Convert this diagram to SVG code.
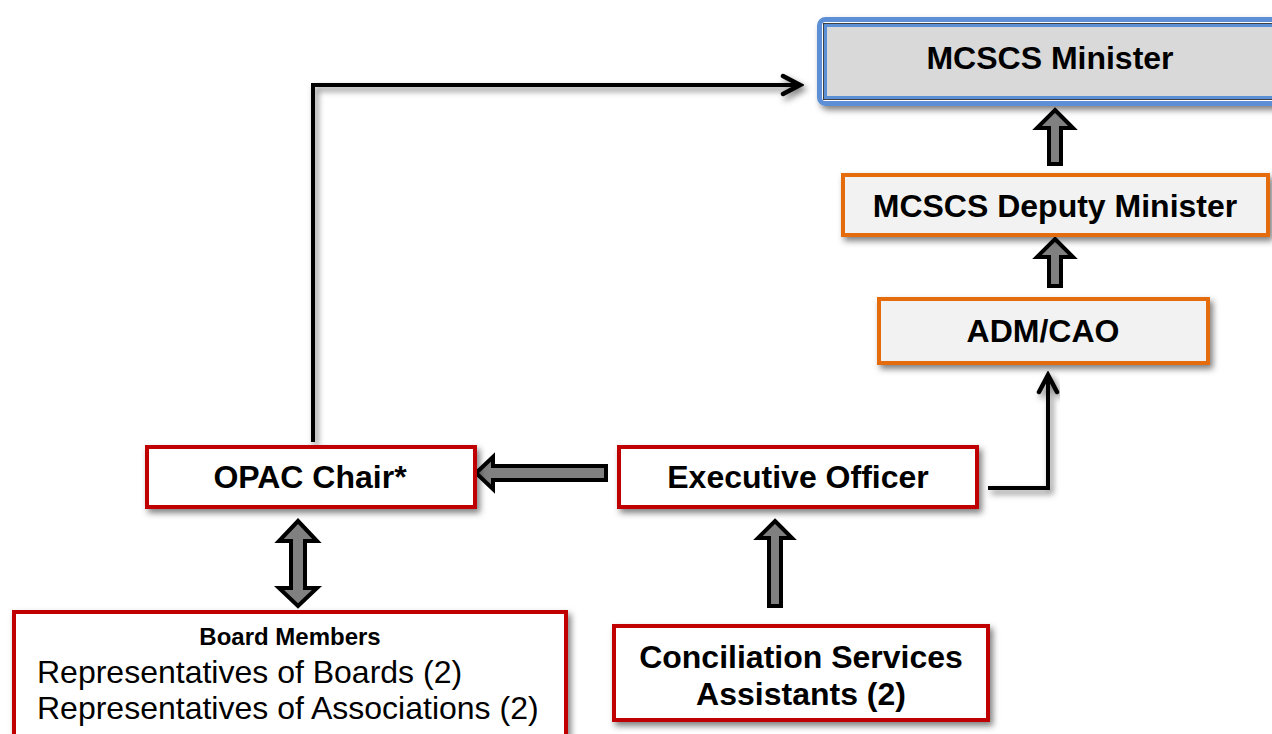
<svg xmlns="http://www.w3.org/2000/svg" width="1272" height="734" viewBox="0 0 1272 734">
<defs>
<filter id="sh" x="-10%" y="-20%" width="130%" height="160%">
<feDropShadow dx="3" dy="4" stdDeviation="3" flood-color="#000" flood-opacity="0.5"/>
</filter>
<marker id="chev" viewBox="0 0 24 24" refX="20" refY="12" markerWidth="24" markerHeight="24" markerUnits="userSpaceOnUse" orient="auto">
<path d="M3,3 L20,12 L3,21" fill="none" stroke="#000" stroke-width="4.5" stroke-linecap="round" stroke-linejoin="miter"/>
</marker>
</defs>
<style>
.t{font-family:"Liberation Sans",Arial,sans-serif;font-weight:bold;font-size:32px;fill:#000;text-anchor:middle}
.r{font-family:"Liberation Sans",Arial,sans-serif;font-size:32px;fill:#000}
.red{fill:#fff;stroke:#c00000;stroke-width:4}
.org{fill:#f2f2f2;stroke:#e46c0a;stroke-width:4}
.blk{fill:#808080;stroke:#000;stroke-width:4;stroke-linejoin:miter}
.ln{fill:none;stroke:#000;stroke-width:4}
</style>
<rect width="1272" height="734" fill="#fff"/>
<g id="connectors">
<path class="ln" d="M313,442 L313,85 L800,85" marker-end="url(#chev)" filter="url(#sh)"/>
<path class="ln" d="M988,488 L1048,488 L1048,375" marker-end="url(#chev)" filter="url(#sh)"/>
<path class="blk" d="M1055,110 L1073,128 L1061,128 L1061,164 L1049,164 L1049,128 L1037,128 Z"/>
<path class="blk" d="M1055,239 L1073,257 L1061,257 L1061,286 L1049,286 L1049,257 L1037,257 Z"/>
<path class="blk" d="M775,521 L792,538 L781,538 L781,606 L769,606 L769,538 L758,538 Z"/>
<path class="blk" d="M476,473 L493,457 L493,466 L606,466 L606,480 L493,480 L493,489 Z"/>
<path class="blk" d="M298,521 L317,541 L305,541 L305,588 L317,588 L298,606 L279,588 L291,588 L291,541 L279,541 Z"/>
</g>
<g id="minister">
<rect x="819.5" y="19.5" width="470" height="84" rx="6" fill="#fff" stroke="#5b8fd6" stroke-width="5" filter="url(#sh)"/>
<rect x="823.5" y="23.5" width="470" height="76" fill="#d9d9d9" stroke="#404040" stroke-width="1"/>
<rect x="825.5" y="25.5" width="470" height="72" fill="#d9d9d9" stroke="#5b8fd6" stroke-width="3"/>
<text class="t" x="1050" y="69">MCSCS Minister</text>
</g>
<g id="deputy">
<rect class="org" x="843" y="175" width="425" height="60" filter="url(#sh)"/>
<text class="t" x="1055" y="217">MCSCS Deputy Minister</text>
</g>
<g id="adm">
<rect class="org" x="879" y="299" width="329" height="64" filter="url(#sh)"/>
<text class="t" x="1043" y="342">ADM/CAO</text>
</g>
<g id="exec">
<rect class="red" x="619" y="447" width="358" height="60" filter="url(#sh)"/>
<text class="t" x="798" y="488">Executive Officer</text>
</g>
<g id="opac">
<rect class="red" x="147" y="447" width="328" height="60" filter="url(#sh)"/>
<text class="t" x="310" y="488">OPAC Chair*</text>
</g>
<g id="board">
<rect class="red" x="14" y="612" width="552" height="130" filter="url(#sh)"/>
<text class="t" x="290" y="645" style="font-size:24px">Board Members</text>
<text class="r" x="37" y="683">Representatives of Boards (2)</text>
<text class="r" x="37" y="719">Representatives of Associations (2)</text>
</g>
<g id="conciliation">
<rect class="red" x="614" y="626" width="374" height="94" filter="url(#sh)"/>
<text class="t" x="801" y="668">Conciliation Services</text>
<text class="t" x="801" y="705">Assistants (2)</text>
</g>
</svg>
